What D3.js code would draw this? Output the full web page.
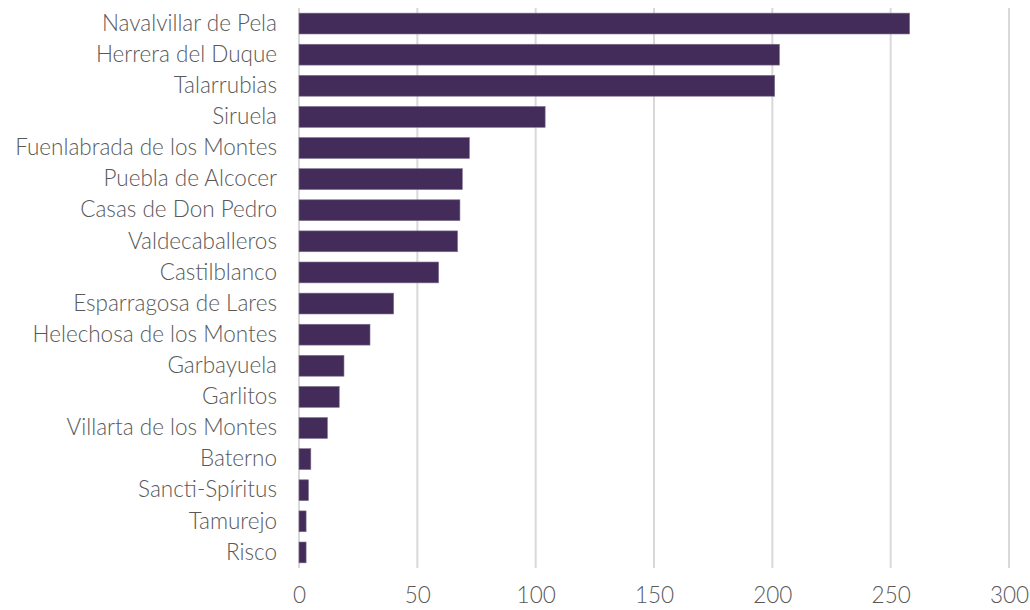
<!DOCTYPE html>
<html>
<head>
<meta charset="utf-8">
<script src="https://cdn.jsdelivr.net/npm/d3@7"></script>
<style>
  body { margin: 0; background: #fff; }
  text { font-family: Lato, "Open Sans", sans-serif; fill: #595959; }
</style>
</head>
<body>
<div id="chart"></div>
<script>
const towns = [
  "Navalvillar de Pela", "Herrera del Duque", "Talarrubias", "Siruela",
  "Fuenlabrada de los Montes", "Puebla de Alcocer", "Casas de Don Pedro",
  "Valdecaballeros", "Castilblanco", "Esparragosa de Lares",
  "Helechosa de los Montes", "Garbayuela", "Garlitos", "Villarta de los Montes",
  "Baterno", "Sancti-Spíritus", "Tamurejo", "Risco"
];
const values = [258, 203, 201, 104, 72, 69, 68, 67, 59, 40, 30, 19, 17, 12, 5, 4, 3, 3];
const xTicks = [0, 50, 100, 150, 200, 250, 300];

const W = 1030, H = 610;
const margin = {top: 8, right: 21, bottom: 42, left: 299};
const width = W - margin.left - margin.right;
const height = H - margin.top - margin.bottom;

const svg = d3.select("#chart").append("svg")
  .attr("width", W)
  .attr("height", H);

const g = svg.append("g")
  .attr("transform", `translate(${margin.left},${margin.top})`);

const x = d3.scaleLinear().domain([0, 300]).range([0, width]);
const y = d3.scaleBand().domain(towns).range([0, height]).paddingInner(0.33).paddingOuter(0.165);

// gridlines
g.selectAll("line.grid")
  .data(xTicks)
  .join("line")
  .attr("class", "grid")
  .attr("x1", d => x(d)).attr("x2", d => x(d))
  .attr("y1", 0).attr("y2", height)
  .attr("stroke", "#d9d9d9")
  .attr("stroke-width", 2);

// bars
g.selectAll("rect")
  .data(values)
  .join("rect")
  .attr("x", x(0))
  .attr("y", (d, i) => y(towns[i]))
  .attr("width", d => x(d) - x(0))
  .attr("height", y.bandwidth())
  .attr("fill", "#432c5a")
  .attr("stroke", "#7d6f8f")
  .attr("stroke-width", 0.6);

// y labels
const yAxis = g.append("g")
  .call(d3.axisLeft(y).tickSize(0).tickPadding(22));
yAxis.select(".domain").remove();
yAxis.selectAll("text")
  .style("font-size", "22.5px")
  .style("font-weight", 300)
  .style("fill", "#595959");

// x labels
const xAxis = g.append("g")
  .attr("transform", `translate(0,${height})`)
  .call(d3.axisBottom(x).tickValues(xTicks).tickSize(0).tickPadding(19));
xAxis.select(".domain").remove();
xAxis.selectAll("text")
  .style("font-size", "22.5px")
  .style("font-weight", 300)
  .style("fill", "#595959");
</script>
</body>
</html>
